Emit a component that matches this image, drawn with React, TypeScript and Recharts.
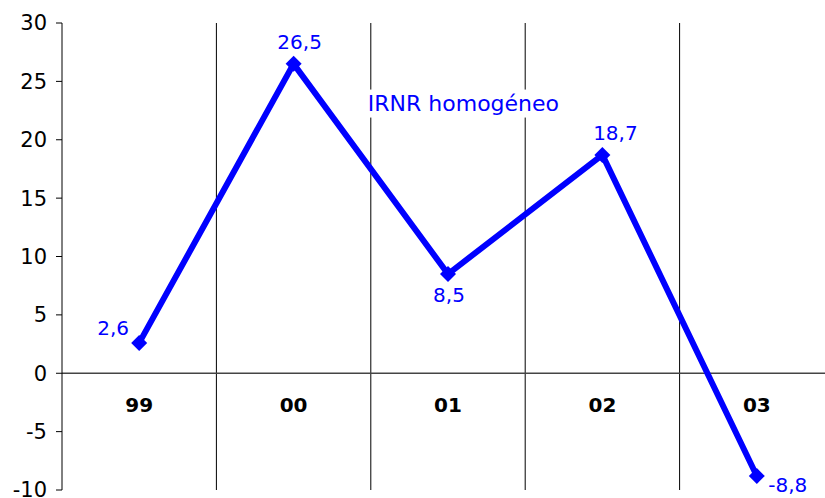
import { ComposedChart, Line, XAxis, YAxis, ReferenceLine, ReferenceDot, Scatter, LabelList } from 'recharts';

const categories = ['99', '00', '01', '02', '03'];
const irnr = [2.6, 26.5, 8.5, 18.7, -8.8];
const yTicks = [-10, -5, 0, 5, 10, 15, 20, 25, 30];
const seriesName = 'IRNR homogéneo';

// where each value label sits relative to its point
const labelShift = [
  { dx: -26, dy: -15 },
  { dx: 6, dy: -22 },
  { dx: 1, dy: 21 },
  { dx: 13, dy: -22 },
  { dx: 31, dy: 9 },
];

const BLUE = '#0000ff';
const FONT = '"DejaVu Sans", Verdana, sans-serif';

const data = categories.map((c, i) => ({ x: i + 0.5, cat: c, value: irnr[i], zero: 0 }));

const fmt = (v: number) => String(v).replace('.', ',');

const Diamond = (props: any) => {
  const { cx, cy } = props;
  if (cx == null || cy == null) return null;
  const r = 8;
  return <polygon points={`${cx},${cy - r} ${cx + r},${cy} ${cx},${cy + r} ${cx - r},${cy}`} fill={BLUE} />;
};

const ValueLabel = (props: any) => {
  const { x, y, value, index } = props;
  const s = labelShift[index] || { dx: 0, dy: 0 };
  return (
    <text x={x + s.dx} y={y + s.dy} textAnchor="middle" dominantBaseline="central" fill={BLUE} fontSize={20} fontFamily={FONT}>
      {fmt(value)}
    </text>
  );
};

const CatLabel = (props: any) => {
  const { x, y, width, height, value } = props;
  const cx = x + (width || 0) / 2;
  const cy = y + (height || 0) / 2;
  return (
    <text x={cx} y={cy + 32} textAnchor="middle" dominantBaseline="central" fill="#000" fontSize={20} fontWeight="bold" fontFamily={FONT}>
      {value}
    </text>
  );
};

const SeriesLabel = (props: any) => {
  const vb = props.viewBox || {};
  const cx = (vb.x || 0) + (vb.width || 0) / 2;
  const cy = (vb.y || 0) + (vb.height || 0) / 2;
  return (
    <g>
      <rect x={cx - 102} y={cy - 14} width={204} height={28} fill="#fff" />
      <text x={cx} y={cy} textAnchor="middle" dominantBaseline="central" fill={BLUE} fontSize={22} fontFamily={FONT}>
        {seriesName}
      </text>
    </g>
  );
};

export default function App() {
  return (
    <div style={{ position: 'absolute', left: 0, top: 0, width: 825, height: 498, overflow: 'hidden', background: '#fff' }}>
      <ComposedChart width={834} height={498} data={data} margin={{ top: 23, right: 0, bottom: 8, left: 0 }}>
        <XAxis dataKey="x" type="number" domain={[0, 5]} hide />
        <YAxis
          domain={[-10, 30]}
          ticks={yTicks}
          width={62}
          tickLine={{ stroke: '#000' }}
          tickSize={6}
          tickMargin={9}
          axisLine={{ stroke: '#000' }}
          tick={{ fill: '#000', fontSize: 21, fontFamily: FONT }}
          interval={0}
        />
        {[1, 2, 3, 4].map((b) => (
          <ReferenceLine key={b} x={b} stroke="#000" strokeWidth={1} />
        ))}
        <ReferenceLine y={0} stroke="#444" strokeWidth={1.5} />
        <ReferenceDot x={2.6} y={23.1} r={0} fill="none" stroke="none" label={<SeriesLabel />} />
        <Scatter dataKey="zero" shape={() => null} isAnimationActive={false}>
          <LabelList dataKey="cat" content={CatLabel} />
        </Scatter>
        <Line
          dataKey="value"
          stroke={BLUE}
          strokeWidth={6}
          dot={<Diamond />}
          activeDot={false}
          isAnimationActive={false}
        >
          <LabelList dataKey="value" content={ValueLabel} />
        </Line>
      </ComposedChart>
    </div>
  );
}
